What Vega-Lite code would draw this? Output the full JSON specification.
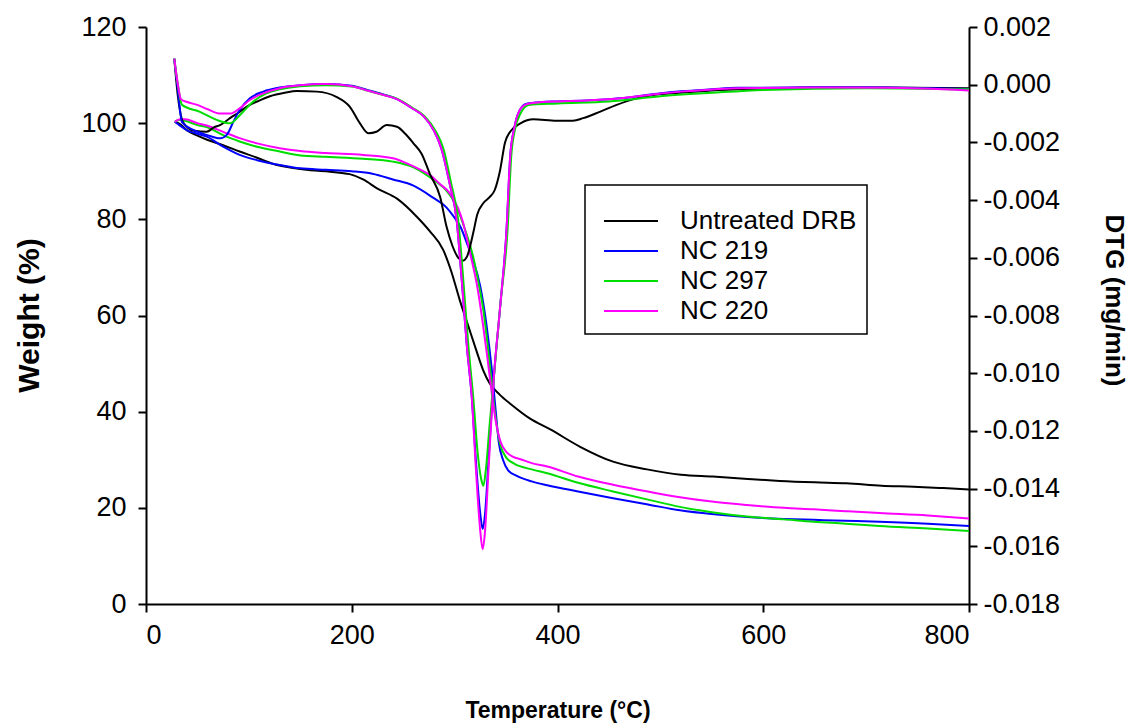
{
  "$schema": "https://vega.github.io/schema/vega-lite/v6.json",
  "autosize": {"type": "none"},
  "padding": {"left": 146, "top": 27, "right": 160, "bottom": 119},
  "width": 823,
  "height": 577,
  "background": "white",
  "config": {
    "view": {"stroke": null},
    "font": "Liberation Sans",
    "axis": {
      "grid": false,
      "domainColor": "black",
      "domainWidth": 2,
      "tickColor": "black",
      "tickWidth": 2,
      "tickSize": 8,
      "labelFont": "Liberation Sans",
      "labelFontSize": 27,
      "labelColor": "black",
      "titleFont": "Liberation Sans",
      "titleFontWeight": "bold",
      "titleColor": "black"
    },
    "legend": {
      "orient": "none",
      "legendX": 439,
      "legendY": 158,
      "strokeColor": "black",
      "strokeWidth": 1.5,
      "fillColor": "white",
      "padding": 10,
      "labelFont": "Liberation Sans",
      "labelFontSize": 26,
      "labelColor": "black",
      "labelLimit": 400,
      "symbolType": "stroke",
      "symbolSize": 2916,
      "symbolStrokeWidth": 2,
      "symbolOffset": 8,
      "clipHeight": 26,
      "rowPadding": 4,
      "labelOffset": 21,
      "titleFontSize": 10,
      "titlePadding": 3,
      "titleFont": "Liberation Sans"
    }
  },
  "datasets": {
    "tg": [
      {"s":"Untreated DRB","T":28,"W":100.3},{"s":"Untreated DRB","T":33,"W":99.8},{"s":"Untreated DRB","T":40,"W":98.5},{"s":"Untreated DRB","T":50,"W":97.4},{"s":"Untreated DRB","T":60,"W":96.5},{"s":"Untreated DRB","T":75,"W":95.4},{"s":"Untreated DRB","T":91,"W":94.1},{"s":"Untreated DRB","T":108,"W":92.8},{"s":"Untreated DRB","T":124,"W":91.5},{"s":"Untreated DRB","T":140,"W":90.8},{"s":"Untreated DRB","T":160,"W":90.2},{"s":"Untreated DRB","T":179,"W":89.9},{"s":"Untreated DRB","T":198,"W":89.4},{"s":"Untreated DRB","T":211,"W":88.3},{"s":"Untreated DRB","T":225,"W":86.4},{"s":"Untreated DRB","T":244,"W":84.3},{"s":"Untreated DRB","T":263,"W":80.6},{"s":"Untreated DRB","T":276,"W":77.5},{"s":"Untreated DRB","T":289,"W":73.6},{"s":"Untreated DRB","T":297,"W":69},{"s":"Untreated DRB","T":305,"W":63.2},{"s":"Untreated DRB","T":313,"W":58},{"s":"Untreated DRB","T":321,"W":52.8},{"s":"Untreated DRB","T":328,"W":48.5},{"s":"Untreated DRB","T":334,"W":45.9},{"s":"Untreated DRB","T":344,"W":43.5},{"s":"Untreated DRB","T":355,"W":41.5},{"s":"Untreated DRB","T":373,"W":38.6},{"s":"Untreated DRB","T":393,"W":36.3},{"s":"Untreated DRB","T":422,"W":32.7},{"s":"Untreated DRB","T":454,"W":29.6},{"s":"Untreated DRB","T":487,"W":28},{"s":"Untreated DRB","T":520,"W":26.9},{"s":"Untreated DRB","T":551,"W":26.5},{"s":"Untreated DRB","T":585,"W":26},{"s":"Untreated DRB","T":616,"W":25.6},{"s":"Untreated DRB","T":650,"W":25.3},{"s":"Untreated DRB","T":681,"W":25.1},{"s":"Untreated DRB","T":715,"W":24.6},{"s":"Untreated DRB","T":746,"W":24.4},{"s":"Untreated DRB","T":775,"W":24.1},{"s":"Untreated DRB","T":800,"W":23.8},
      {"s":"NC 219","T":28,"W":100.3},{"s":"NC 219","T":33,"W":99.5},{"s":"NC 219","T":40,"W":98.5},{"s":"NC 219","T":50,"W":97.8},{"s":"NC 219","T":59,"W":97.2},{"s":"NC 219","T":75,"W":95.1},{"s":"NC 219","T":91,"W":93.4},{"s":"NC 219","T":108,"W":92.3},{"s":"NC 219","T":130,"W":91.3},{"s":"NC 219","T":150,"W":90.6},{"s":"NC 219","T":175,"W":90.3},{"s":"NC 219","T":200,"W":90},{"s":"NC 219","T":220,"W":89.5},{"s":"NC 219","T":240,"W":88.3},{"s":"NC 219","T":260,"W":87},{"s":"NC 219","T":279,"W":84.5},{"s":"NC 219","T":292,"W":82.5},{"s":"NC 219","T":299,"W":80.6},{"s":"NC 219","T":306,"W":78.3},{"s":"NC 219","T":312,"W":75},{"s":"NC 219","T":318,"W":71.5},{"s":"NC 219","T":325,"W":66},{"s":"NC 219","T":331,"W":58},{"s":"NC 219","T":336,"W":49},{"s":"NC 219","T":340,"W":40},{"s":"NC 219","T":343,"W":33.5},{"s":"NC 219","T":347,"W":30},{"s":"NC 219","T":352,"W":27.8},{"s":"NC 219","T":360,"W":26.7},{"s":"NC 219","T":375,"W":25.5},{"s":"NC 219","T":390,"W":24.7},{"s":"NC 219","T":420,"W":23.4},{"s":"NC 219","T":454,"W":22},{"s":"NC 219","T":490,"W":20.6},{"s":"NC 219","T":519,"W":19.5},{"s":"NC 219","T":550,"W":18.7},{"s":"NC 219","T":584,"W":18.1},{"s":"NC 219","T":620,"W":17.7},{"s":"NC 219","T":649,"W":17.5},{"s":"NC 219","T":680,"W":17.3},{"s":"NC 219","T":713,"W":17.1},{"s":"NC 219","T":760,"W":16.7},{"s":"NC 219","T":800,"W":16.2},
      {"s":"NC 297","T":28,"W":100.3},{"s":"NC 297","T":33,"W":100.7},{"s":"NC 297","T":38,"W":100.5},{"s":"NC 297","T":50,"W":99.6},{"s":"NC 297","T":59,"W":99.2},{"s":"NC 297","T":75,"W":97.5},{"s":"NC 297","T":91,"W":96.2},{"s":"NC 297","T":108,"W":95.1},{"s":"NC 297","T":130,"W":94.1},{"s":"NC 297","T":150,"W":93.3},{"s":"NC 297","T":175,"W":93},{"s":"NC 297","T":211,"W":92.6},{"s":"NC 297","T":240,"W":92},{"s":"NC 297","T":260,"W":90.8},{"s":"NC 297","T":270,"W":89.6},{"s":"NC 297","T":282,"W":87.8},{"s":"NC 297","T":292,"W":86},{"s":"NC 297","T":300,"W":83.5},{"s":"NC 297","T":308,"W":79.2},{"s":"NC 297","T":318,"W":72.2},{"s":"NC 297","T":323,"W":67},{"s":"NC 297","T":328,"W":61},{"s":"NC 297","T":332,"W":54},{"s":"NC 297","T":336,"W":46},{"s":"NC 297","T":340,"W":38.5},{"s":"NC 297","T":344,"W":33.5},{"s":"NC 297","T":350,"W":30.5},{"s":"NC 297","T":357,"W":29.3},{"s":"NC 297","T":375,"W":28},{"s":"NC 297","T":390,"W":27.2},{"s":"NC 297","T":420,"W":25.2},{"s":"NC 297","T":454,"W":23.4},{"s":"NC 297","T":490,"W":21.6},{"s":"NC 297","T":519,"W":20.2},{"s":"NC 297","T":550,"W":19.1},{"s":"NC 297","T":584,"W":18.2},{"s":"NC 297","T":620,"W":17.6},{"s":"NC 297","T":649,"W":17.1},{"s":"NC 297","T":680,"W":16.7},{"s":"NC 297","T":713,"W":16.2},{"s":"NC 297","T":760,"W":15.7},{"s":"NC 297","T":800,"W":15.2},
      {"s":"NC 220","T":28,"W":100.3},{"s":"NC 220","T":33,"W":100.8},{"s":"NC 220","T":38,"W":100.8},{"s":"NC 220","T":50,"W":100},{"s":"NC 220","T":59,"W":99.5},{"s":"NC 220","T":75,"W":98.2},{"s":"NC 220","T":91,"W":96.9},{"s":"NC 220","T":108,"W":95.8},{"s":"NC 220","T":130,"W":94.8},{"s":"NC 220","T":150,"W":94.2},{"s":"NC 220","T":175,"W":93.8},{"s":"NC 220","T":211,"W":93.4},{"s":"NC 220","T":240,"W":92.7},{"s":"NC 220","T":253,"W":91.7},{"s":"NC 220","T":265,"W":90.5},{"s":"NC 220","T":276,"W":89.2},{"s":"NC 220","T":286,"W":87.3},{"s":"NC 220","T":295,"W":85.5},{"s":"NC 220","T":303,"W":82.5},{"s":"NC 220","T":308,"W":79.5},{"s":"NC 220","T":315,"W":73},{"s":"NC 220","T":322,"W":66},{"s":"NC 220","T":327,"W":59},{"s":"NC 220","T":332,"W":51},{"s":"NC 220","T":336,"W":44},{"s":"NC 220","T":340,"W":38},{"s":"NC 220","T":345,"W":33.5},{"s":"NC 220","T":350,"W":31.7},{"s":"NC 220","T":357,"W":30.6},{"s":"NC 220","T":364,"W":30.1},{"s":"NC 220","T":375,"W":29.3},{"s":"NC 220","T":390,"W":28.6},{"s":"NC 220","T":420,"W":26.5},{"s":"NC 220","T":454,"W":24.8},{"s":"NC 220","T":490,"W":23.3},{"s":"NC 220","T":519,"W":22.2},{"s":"NC 220","T":550,"W":21.3},{"s":"NC 220","T":584,"W":20.6},{"s":"NC 220","T":620,"W":20},{"s":"NC 220","T":649,"W":19.7},{"s":"NC 220","T":680,"W":19.3},{"s":"NC 220","T":713,"W":18.9},{"s":"NC 220","T":760,"W":18.4},{"s":"NC 220","T":800,"W":17.8}
    ],
    "dtg": [
      {"s":"Untreated DRB","T":27.5,"D":0.0009},{"s":"Untreated DRB","T":31,"D":-0.0004},{"s":"Untreated DRB","T":36,"D":-0.0013},{"s":"Untreated DRB","T":47,"D":-0.0016},{"s":"Untreated DRB","T":59,"D":-0.00163},{"s":"Untreated DRB","T":66,"D":-0.00148},{"s":"Untreated DRB","T":72,"D":-0.0014},{"s":"Untreated DRB","T":82,"D":-0.00115},{"s":"Untreated DRB","T":91,"D":-0.00094},{"s":"Untreated DRB","T":98,"D":-0.00076},{"s":"Untreated DRB","T":110,"D":-0.00055},{"s":"Untreated DRB","T":120.5,"D":-0.0004},{"s":"Untreated DRB","T":135,"D":-0.00028},{"s":"Untreated DRB","T":146.5,"D":-0.00022},{"s":"Untreated DRB","T":166,"D":-0.00024},{"s":"Untreated DRB","T":185,"D":-0.00042},{"s":"Untreated DRB","T":198,"D":-0.00076},{"s":"Untreated DRB","T":208,"D":-0.00134},{"s":"Untreated DRB","T":216,"D":-0.00168},{"s":"Untreated DRB","T":224,"D":-0.00163},{"s":"Untreated DRB","T":234,"D":-0.0014},{"s":"Untreated DRB","T":244,"D":-0.00146},{"s":"Untreated DRB","T":252,"D":-0.0017},{"s":"Untreated DRB","T":260,"D":-0.00203},{"s":"Untreated DRB","T":268,"D":-0.0024},{"s":"Untreated DRB","T":276,"D":-0.0031},{"s":"Untreated DRB","T":286,"D":-0.0039},{"s":"Untreated DRB","T":292,"D":-0.0049},{"s":"Untreated DRB","T":298,"D":-0.0056},{"s":"Untreated DRB","T":303.6,"D":-0.006},{"s":"Untreated DRB","T":308,"D":-0.0061},{"s":"Untreated DRB","T":312,"D":-0.00596},{"s":"Untreated DRB","T":318,"D":-0.00515},{"s":"Untreated DRB","T":322,"D":-0.0045},{"s":"Untreated DRB","T":328,"D":-0.0041},{"s":"Untreated DRB","T":334,"D":-0.0039},{"s":"Untreated DRB","T":339,"D":-0.00365},{"s":"Untreated DRB","T":344,"D":-0.003},{"s":"Untreated DRB","T":349,"D":-0.002},{"s":"Untreated DRB","T":354,"D":-0.00163},{"s":"Untreated DRB","T":364,"D":-0.00134},{"s":"Untreated DRB","T":376.5,"D":-0.0012},{"s":"Untreated DRB","T":399,"D":-0.00125},{"s":"Untreated DRB","T":415,"D":-0.00125},{"s":"Untreated DRB","T":425,"D":-0.00116},{"s":"Untreated DRB","T":441,"D":-0.00094},{"s":"Untreated DRB","T":457.5,"D":-0.0007},{"s":"Untreated DRB","T":474,"D":-0.0005},{"s":"Untreated DRB","T":493,"D":-0.00036},{"s":"Untreated DRB","T":519,"D":-0.00028},{"s":"Untreated DRB","T":550,"D":-0.0002},{"s":"Untreated DRB","T":600,"D":-0.00014},{"s":"Untreated DRB","T":650,"D":-0.0001},{"s":"Untreated DRB","T":700,"D":-0.0001},{"s":"Untreated DRB","T":800,"D":-0.00012},
      {"s":"NC 219","T":27.5,"D":0.0009},{"s":"NC 219","T":31,"D":-0.0002},{"s":"NC 219","T":35,"D":-0.0013},{"s":"NC 219","T":46,"D":-0.00157},{"s":"NC 219","T":59,"D":-0.00174},{"s":"NC 219","T":72,"D":-0.00186},{"s":"NC 219","T":78.5,"D":-0.00174},{"s":"NC 219","T":85,"D":-0.00128},{"s":"NC 219","T":91,"D":-0.00088},{"s":"NC 219","T":101,"D":-0.00047},{"s":"NC 219","T":114,"D":-0.00024},{"s":"NC 219","T":130,"D":-0.0001},{"s":"NC 219","T":150,"D":-0.00002},{"s":"NC 219","T":175,"D":0.00002},{"s":"NC 219","T":200,"D":-0.00004},{"s":"NC 219","T":215,"D":-0.00018},{"s":"NC 219","T":230,"D":-0.00033},{"s":"NC 219","T":244,"D":-0.0005},{"s":"NC 219","T":258,"D":-0.0008},{"s":"NC 219","T":270,"D":-0.0011},{"s":"NC 219","T":280,"D":-0.0016},{"s":"NC 219","T":287,"D":-0.0022},{"s":"NC 219","T":295,"D":-0.0034},{"s":"NC 219","T":302,"D":-0.0047},{"s":"NC 219","T":307,"D":-0.0068},{"s":"NC 219","T":312,"D":-0.0091},{"s":"NC 219","T":316.6,"D":-0.0108},{"s":"NC 219","T":321,"D":-0.0132},{"s":"NC 219","T":325,"D":-0.0149},{"s":"NC 219","T":327.3,"D":-0.0154},{"s":"NC 219","T":329.5,"D":-0.0149},{"s":"NC 219","T":333,"D":-0.013},{"s":"NC 219","T":338,"D":-0.0102},{"s":"NC 219","T":344,"D":-0.0078},{"s":"NC 219","T":350.5,"D":-0.005},{"s":"NC 219","T":354,"D":-0.0025},{"s":"NC 219","T":358,"D":-0.0015},{"s":"NC 219","T":363,"D":-0.0009},{"s":"NC 219","T":370,"D":-0.00066},{"s":"NC 219","T":385,"D":-0.0006},{"s":"NC 219","T":400,"D":-0.00058},{"s":"NC 219","T":432,"D":-0.00054},{"s":"NC 219","T":464,"D":-0.00046},{"s":"NC 219","T":497,"D":-0.00031},{"s":"NC 219","T":520,"D":-0.00023},{"s":"NC 219","T":550,"D":-0.00016},{"s":"NC 219","T":575,"D":-0.00011},{"s":"NC 219","T":650,"D":-0.00009},{"s":"NC 219","T":720,"D":-0.0001},{"s":"NC 219","T":800,"D":-0.00015},
      {"s":"NC 297","T":27.5,"D":0.0009},{"s":"NC 297","T":31,"D":0.0},{"s":"NC 297","T":35,"D":-0.0007},{"s":"NC 297","T":52.5,"D":-0.00094},{"s":"NC 297","T":68.7,"D":-0.00122},{"s":"NC 297","T":81.7,"D":-0.00134},{"s":"NC 297","T":91.4,"D":-0.00105},{"s":"NC 297","T":104,"D":-0.00059},{"s":"NC 297","T":117,"D":-0.0003},{"s":"NC 297","T":130,"D":-0.00016},{"s":"NC 297","T":150,"D":-0.00005},{"s":"NC 297","T":175,"D":-0.00002},{"s":"NC 297","T":200,"D":-0.00006},{"s":"NC 297","T":215,"D":-0.0002},{"s":"NC 297","T":230,"D":-0.00035},{"s":"NC 297","T":245,"D":-0.0005},{"s":"NC 297","T":259,"D":-0.0008},{"s":"NC 297","T":271,"D":-0.0011},{"s":"NC 297","T":281.5,"D":-0.0016},{"s":"NC 297","T":289,"D":-0.0022},{"s":"NC 297","T":296.5,"D":-0.0034},{"s":"NC 297","T":303.5,"D":-0.0047},{"s":"NC 297","T":308.5,"D":-0.0068},{"s":"NC 297","T":313.5,"D":-0.0091},{"s":"NC 297","T":318,"D":-0.0108},{"s":"NC 297","T":322.5,"D":-0.0128},{"s":"NC 297","T":326,"D":-0.0137},{"s":"NC 297","T":328,"D":-0.0139},{"s":"NC 297","T":330.5,"D":-0.0133},{"s":"NC 297","T":334,"D":-0.0118},{"s":"NC 297","T":339,"D":-0.0098},{"s":"NC 297","T":344.5,"D":-0.0076},{"s":"NC 297","T":351.5,"D":-0.005},{"s":"NC 297","T":355,"D":-0.0025},{"s":"NC 297","T":359,"D":-0.0015},{"s":"NC 297","T":364,"D":-0.001},{"s":"NC 297","T":372,"D":-0.0007},{"s":"NC 297","T":400,"D":-0.00065},{"s":"NC 297","T":450,"D":-0.00058},{"s":"NC 297","T":500,"D":-0.0004},{"s":"NC 297","T":550,"D":-0.00028},{"s":"NC 297","T":600,"D":-0.00018},{"s":"NC 297","T":700,"D":-0.00012},{"s":"NC 297","T":800,"D":-0.00016},
      {"s":"NC 220","T":27.5,"D":0.0009},{"s":"NC 220","T":31,"D":0.0},{"s":"NC 220","T":34,"D":-0.0005},{"s":"NC 220","T":40,"D":-0.0006},{"s":"NC 220","T":50,"D":-0.0007},{"s":"NC 220","T":60,"D":-0.00085},{"s":"NC 220","T":72,"D":-0.001},{"s":"NC 220","T":82,"D":-0.001},{"s":"NC 220","T":91,"D":-0.00082},{"s":"NC 220","T":101,"D":-0.00053},{"s":"NC 220","T":114,"D":-0.0003},{"s":"NC 220","T":130,"D":-0.00012},{"s":"NC 220","T":150,"D":-0.00002},{"s":"NC 220","T":175,"D":0.00002},{"s":"NC 220","T":200,"D":-0.00005},{"s":"NC 220","T":215,"D":-0.0002},{"s":"NC 220","T":230,"D":-0.00035},{"s":"NC 220","T":244,"D":-0.0005},{"s":"NC 220","T":258,"D":-0.0008},{"s":"NC 220","T":270,"D":-0.0011},{"s":"NC 220","T":280,"D":-0.0016},{"s":"NC 220","T":287,"D":-0.0022},{"s":"NC 220","T":295,"D":-0.0034},{"s":"NC 220","T":302,"D":-0.0047},{"s":"NC 220","T":307,"D":-0.0068},{"s":"NC 220","T":312,"D":-0.0091},{"s":"NC 220","T":316.6,"D":-0.0108},{"s":"NC 220","T":321,"D":-0.0135},{"s":"NC 220","T":325,"D":-0.0155},{"s":"NC 220","T":327.3,"D":-0.0161},{"s":"NC 220","T":329.5,"D":-0.0155},{"s":"NC 220","T":333,"D":-0.0133},{"s":"NC 220","T":338,"D":-0.0102},{"s":"NC 220","T":344,"D":-0.0078},{"s":"NC 220","T":350.5,"D":-0.005},{"s":"NC 220","T":354,"D":-0.0025},{"s":"NC 220","T":358,"D":-0.0015},{"s":"NC 220","T":363,"D":-0.0009},{"s":"NC 220","T":370,"D":-0.00068},{"s":"NC 220","T":385,"D":-0.0006},{"s":"NC 220","T":400,"D":-0.00058},{"s":"NC 220","T":432,"D":-0.00054},{"s":"NC 220","T":464,"D":-0.00046},{"s":"NC 220","T":497,"D":-0.00032},{"s":"NC 220","T":520,"D":-0.00024},{"s":"NC 220","T":550,"D":-0.00017},{"s":"NC 220","T":575,"D":-0.00012},{"s":"NC 220","T":650,"D":-0.0001},{"s":"NC 220","T":720,"D":-0.00011},{"s":"NC 220","T":800,"D":-0.0002}
    ]
  },
  "encoding": {
    "x": {
      "field": "T", "type": "quantitative",
      "scale": {"domain": [0, 800], "nice": false, "zero": false},
      "axis": {"values": [0, 200, 400, 600, 800], "title": "Temperature (°C)", "titleFontSize": 23, "labelPadding": 10, "titleX": 411.5, "titleY": 118, "titleBaseline": "bottom", "titleAnchor": "middle"}
    }
  },
  "layer": [
    {
      "data": {"name": "tg"},
      "mark": {"type": "line", "strokeWidth": 2, "interpolate": "monotone"},
      "encoding": {
        "y": {
          "field": "W", "type": "quantitative",
          "scale": {"domain": [0, 120], "nice": false},
          "axis": {"orient": "left", "values": [0, 20, 40, 60, 80, 100, 120], "title": "Weight (%)", "titleFontSize": 30, "labelPadding": 12, "titleAngle": 270, "titleX": -102, "titleY": 288, "titleBaseline": "bottom", "titleAnchor": "middle"}
        },
        "color": {
          "field": "s", "type": "nominal",
          "scale": {"domain": ["Untreated DRB", "NC 219", "NC 297", "NC 220"], "range": ["#000000", "#0000ff", "#00dd00", "#ff00ff"]},
          "legend": {"title": " "}
        },
        "order": {"field": "T", "type": "quantitative"}
      }
    },
    {
      "data": {"name": "dtg"},
      "mark": {"type": "line", "strokeWidth": 2, "interpolate": "monotone"},
      "encoding": {
        "y": {
          "field": "D", "type": "quantitative",
          "scale": {"domain": [-0.018, 0.002], "nice": false, "zero": false},
          "axis": {"orient": "right", "values": [-0.018, -0.016, -0.014, -0.012, -0.01, -0.008, -0.006, -0.004, -0.002, 0, 0.002], "labelExpr": "replace(format(datum.value, '.3f'), '\u2212', '-')", "title": "DTG (mg/min)", "titleFontSize": 26, "labelPadding": 6, "titleAngle": 90, "titleX": 131, "titleY": 273, "titleBaseline": "bottom", "titleAnchor": "middle"}
        },
        "color": {"field": "s", "type": "nominal", "legend": null},
        "order": {"field": "T", "type": "quantitative"}
      }
    },
    {
      "data": {"values": [{"top": 118.4}]},
      "mark": {"type": "rule", "color": "black", "strokeWidth": 2},
      "encoding": {"y": {"field": "top", "type": "quantitative", "scale": {"domain": [0, 120], "nice": false}, "axis": null}}
    }
  ],
  "resolve": {"scale": {"y": "independent"}}
}
